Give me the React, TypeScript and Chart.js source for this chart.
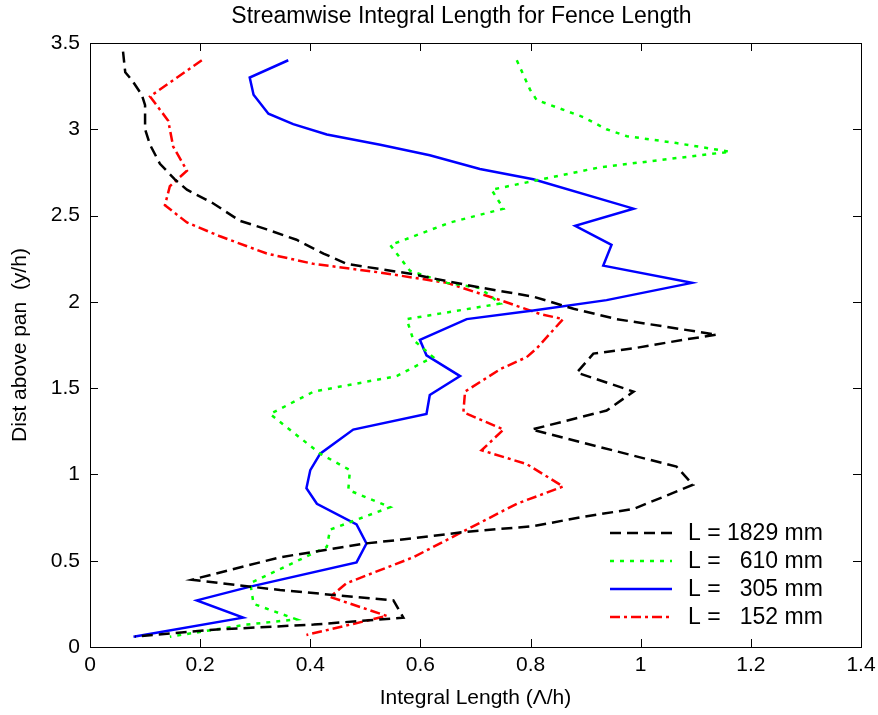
import React, { useEffect, useRef } from 'react';
import { Chart, registerables } from 'chart.js';

Chart.register(...registerables);

const chartTitle = 'Streamwise Integral Length for Fence Length';
const xAxisTitle = 'Integral Length (\u039B/h)';
const yAxisTitle = 'Dist above pan  (y/h)';
const xTickLabels = ['0', '0.2', '0.4', '0.6', '0.8', '1', '1.2', '1.4'];
const yTickLabels = ['0', '0.5', '1', '1.5', '2', '2.5', '3', '3.5'];
const seriesLabels = ['L = 1829 mm', 'L =   610 mm', 'L =   305 mm', 'L =   152 mm'];

// L = 1829 mm (black dashed)
const length1829 = [0.060, 0.064, 0.076, 0.094, 0.100, 0.100, 0.109, 0.127, 0.154, 0.176, 0.224, 0.272, 0.321, 0.375, 0.424, 0.466, 0.527, 0.587, 0.648, 0.714, 0.805, 0.878, 0.956, 1.017, 1.077, 1.138, 1.077, 0.986, 0.914, 0.884, 0.987, 0.938, 0.802, 1.065, 1.095, 0.987, 0.896, 0.805, 0.684, 0.560, 0.500, 0.345, 0.185, 0.345, 0.551, 0.569, 0.406, 0.224, 0.082];
const height1829 = [3.45, 3.33, 3.285, 3.20, 3.14, 3.00, 2.91, 2.80, 2.71, 2.65, 2.57, 2.47, 2.42, 2.36, 2.28, 2.22, 2.19, 2.16, 2.12, 2.08, 2.03, 1.96, 1.90, 1.87, 1.84, 1.81, 1.78, 1.73, 1.70, 1.59, 1.48, 1.37, 1.26, 1.045, 0.94, 0.80, 0.755, 0.70, 0.668, 0.62, 0.60, 0.52, 0.39, 0.33, 0.27, 0.17, 0.13, 0.10, 0.06];

// L = 610 mm (green dotted)
const length610 = [0.775, 0.799, 0.811, 0.896, 0.938, 0.975, 1.065, 1.162, 0.926, 0.805, 0.729, 0.751, 0.654, 0.563, 0.545, 0.581, 0.648, 0.708, 0.745, 0.575, 0.587, 0.623, 0.557, 0.406, 0.327, 0.418, 0.472, 0.469, 0.545, 0.436, 0.430, 0.291, 0.297, 0.375, 0.285, 0.145];
const height610 = [3.40, 3.23, 3.17, 3.07, 3.00, 2.96, 2.92, 2.87, 2.78, 2.70, 2.65, 2.54, 2.46, 2.35, 2.33, 2.18, 2.11, 2.08, 1.99, 1.90, 1.78, 1.68, 1.57, 1.48, 1.35, 1.12, 1.025, 0.91, 0.81, 0.68, 0.58, 0.37, 0.25, 0.16, 0.13, 0.06];

// L = 305 mm (blue solid)
const length305 = [0.360, 0.290, 0.297, 0.324, 0.369, 0.430, 0.527, 0.617, 0.708, 0.805, 0.987, 0.881, 0.947, 0.932, 1.093, 0.938, 0.805, 0.684, 0.599, 0.611, 0.672, 0.617, 0.611, 0.478, 0.418, 0.400, 0.393, 0.412, 0.484, 0.502, 0.484, 0.291, 0.194, 0.278, 0.079];
const height305 = [3.40, 3.30, 3.20, 3.09, 3.03, 2.97, 2.91, 2.85, 2.77, 2.71, 2.54, 2.44, 2.33, 2.21, 2.11, 2.01, 1.95, 1.90, 1.78, 1.69, 1.57, 1.46, 1.35, 1.26, 1.12, 1.025, 0.92, 0.83, 0.71, 0.60, 0.49, 0.35, 0.27, 0.17, 0.06];

// L = 152 mm (red dash-dot)
const length152 = [0.203, 0.109, 0.142, 0.151, 0.176, 0.145, 0.136, 0.176, 0.236, 0.321, 0.406, 0.527, 0.648, 0.745, 0.817, 0.859, 0.811, 0.793, 0.745, 0.681, 0.678, 0.751, 0.711, 0.793, 0.859, 0.775, 0.684, 0.587, 0.466, 0.436, 0.539, 0.393];
const height152 = [3.40, 3.19, 3.05, 2.90, 2.76, 2.67, 2.56, 2.46, 2.38, 2.28, 2.22, 2.17, 2.11, 2.01, 1.93, 1.90, 1.73, 1.68, 1.61, 1.48, 1.36, 1.26, 1.14, 1.06, 0.93, 0.83, 0.68, 0.52, 0.37, 0.29, 0.18, 0.07];

const FONT = '"Liberation Sans", Arial, Helvetica, sans-serif';

const toPoints = (xs: number[], ys: number[]) => xs.map((x, i) => ({ x, y: ys[i] }));

const overlayPlugin = {
  id: 'matlabFrame',
  afterDraw(chart: any) {
    const { ctx, chartArea: a, scales } = chart;
    ctx.save();

    // title (centred slightly left of the axes centre, as in the original)
    ctx.fillStyle = '#000';
    ctx.font = `23px ${FONT}`;
    ctx.textAlign = 'center';
    ctx.textBaseline = 'middle';
    ctx.fillText(chartTitle, (a.left + a.right) / 2 - 14, 17);

    ctx.strokeStyle = '#000';
    ctx.lineWidth = 1;
    ctx.setLineDash([]);
    ctx.strokeRect(Math.round(a.left) + 0.5, Math.round(a.top) + 0.5, Math.round(a.right - a.left), Math.round(a.bottom - a.top));
    const tl = 8;
    ctx.beginPath();
    scales.x.ticks.forEach((t: any) => {
      const px = Math.round(scales.x.getPixelForValue(t.value)) + 0.5;
      ctx.moveTo(px, a.bottom);
      ctx.lineTo(px, a.bottom - tl);
      ctx.moveTo(px, a.top);
      ctx.lineTo(px, a.top + tl);
    });
    scales.y.ticks.forEach((t: any) => {
      const py = Math.round(scales.y.getPixelForValue(t.value)) + 0.5;
      ctx.moveTo(a.left, py);
      ctx.lineTo(a.left + tl, py);
      ctx.moveTo(a.right, py);
      ctx.lineTo(a.right - tl, py);
    });
    ctx.stroke();

    // legend
    const x0 = a.right - 251;
    const x1 = a.right - 189;
    const tx = a.right - 173;
    const rowYs = [a.bottom - 114, a.bottom - 86, a.bottom - 58, a.bottom - 30];
    ctx.font = `23px ${FONT}`;
    ctx.textBaseline = 'middle';
    ctx.textAlign = 'left';
    chart.data.datasets.forEach((ds: any, i: number) => {
      const y = rowYs[i];
      ctx.strokeStyle = ds.borderColor;
      ctx.lineWidth = ds.borderWidth;
      ctx.setLineDash(ds.borderDash || []);
      ctx.beginPath();
      ctx.moveTo(x0, y);
      ctx.lineTo(x1, y);
      ctx.stroke();
      ctx.setLineDash([]);
      ctx.fillStyle = '#000';
      ctx.fillText(ds.label, tx, y + 1);
    });
    ctx.restore();
  },
};

export default function App() {
  const canvasRef = useRef<HTMLCanvasElement | null>(null);

  useEffect(() => {
    const canvas = canvasRef.current;
    if (!canvas) return;
    const common = { showLine: true, pointRadius: 0, pointHoverRadius: 0, fill: false, tension: 0, borderWidth: 2.5 };
    const chart = new Chart(canvas, {
      type: 'scatter',
      data: {
        datasets: [
          { ...common, label: seriesLabels[0], data: toPoints(length1829, height1829), borderColor: '#000000', backgroundColor: '#000000', borderDash: [11, 6] },
          { ...common, label: seriesLabels[1], data: toPoints(length610, height610), borderColor: '#00ff00', backgroundColor: '#00ff00', borderDash: [4, 6] },
          { ...common, label: seriesLabels[2], data: toPoints(length305, height305), borderColor: '#0000ff', backgroundColor: '#0000ff' },
          { ...common, label: seriesLabels[3], data: toPoints(length152, height152), borderColor: '#ff0000', backgroundColor: '#ff0000', borderDash: [10, 4, 3, 4] },
        ],
      },
      options: {
        responsive: false,
        animation: false,
        devicePixelRatio: 1,
        layout: { padding: { left: 0, right: 17, top: 43, bottom: 0 } },
        plugins: {
          legend: { display: false },
          tooltip: { enabled: false },
          title: { display: false },
        },
        scales: {
          x: {
            type: 'linear',
            min: 0,
            max: 1.4,
            grid: { display: false, drawTicks: false },
            border: { display: false },
            ticks: {
              stepSize: 0.2,
              padding: 6,
              color: '#000',
              font: { family: FONT, size: 21 },
              maxRotation: 0,
              autoSkip: false,
              callback: (_v: any, i: number) => xTickLabels[i],
            },
            title: {
              display: true,
              text: xAxisTitle,
              color: '#000',
              font: { family: FONT, size: 21 },
              padding: { top: 0, bottom: 4 },
            },
            afterFit: (s: any) => { s.height = 68; s.paddingLeft = 0; s.paddingRight = 0; },
          },
          y: {
            type: 'linear',
            min: 0,
            max: 3.5,
            grid: { display: false, drawTicks: false },
            border: { display: false },
            ticks: {
              stepSize: 0.5,
              padding: 10,
              color: '#000',
              font: { family: FONT, size: 21 },
              autoSkip: false,
              callback: (_v: any, i: number) => yTickLabels[i],
            },
            title: {
              display: true,
              text: yAxisTitle,
              color: '#000',
              font: { family: FONT, size: 21 },
              padding: { top: 8, bottom: 0 },
            },
            afterFit: (s: any) => { s.width = 90; s.paddingTop = 0; s.paddingBottom = 0; },
          },
        },
      },
      plugins: [overlayPlugin],
    });
    return () => chart.destroy();
  }, []);

  return (
    <div style={{ position: 'fixed', left: 0, top: 0, width: 878, height: 715, background: '#fff' }}>
      <canvas ref={canvasRef} width={878} height={715} style={{ display: 'block', width: 878, height: 715 }} />
    </div>
  );
}
